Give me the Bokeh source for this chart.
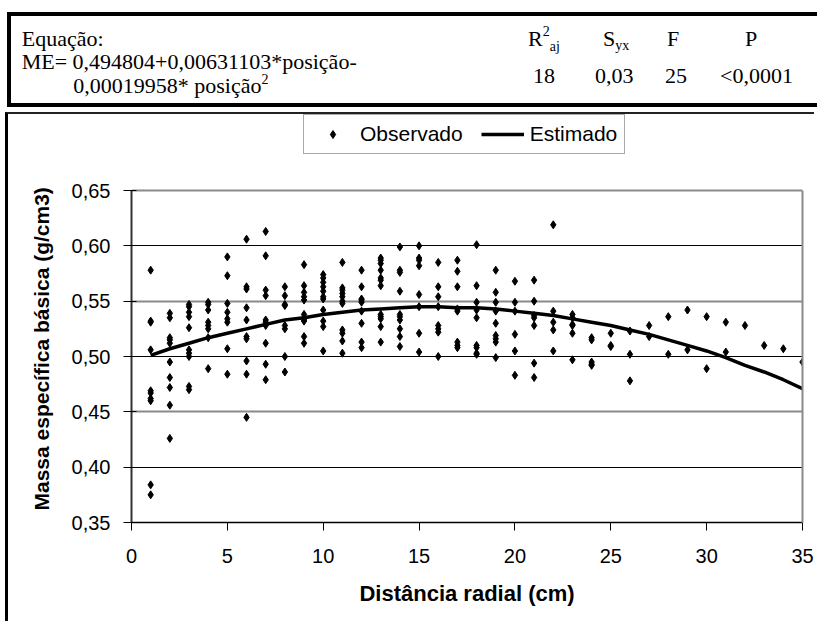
from bokeh.plotting import figure
from bokeh.models import (Div, FixedTicker, CustomJSTickFormatter, Grid, Legend,
                          LegendItem, ColumnDataSource, Range1d, Title, LinearAxis)
from bokeh.layouts import column
from bokeh.embed import file_html
from bokeh.resources import INLINE

# ---------------- data ----------------
positions = list(range(1, 36))
observed = [
    [0.578, 0.532, 0.531, 0.506, 0.469, 0.467, 0.462, 0.460, 0.384, 0.375],
    [0.539, 0.535, 0.517, 0.515, 0.512, 0.495, 0.481, 0.472, 0.456, 0.426],
    [0.547, 0.545, 0.540, 0.536, 0.526, 0.506, 0.503, 0.500, 0.473, 0.470],
    [0.549, 0.547, 0.542, 0.531, 0.528, 0.525, 0.517, 0.489],
    [0.590, 0.573, 0.548, 0.540, 0.534, 0.531, 0.507, 0.484],
    [0.606, 0.563, 0.561, 0.544, 0.533, 0.518, 0.516, 0.496, 0.484, 0.445],
    [0.613, 0.591, 0.560, 0.555, 0.533, 0.531, 0.528, 0.512, 0.493, 0.479],
    [0.563, 0.555, 0.547, 0.546, 0.528, 0.525, 0.500, 0.486],
    [0.583, 0.564, 0.558, 0.554, 0.551, 0.538, 0.533, 0.532, 0.518, 0.512],
    [0.574, 0.571, 0.567, 0.563, 0.559, 0.554, 0.552, 0.542, 0.532, 0.527, 0.505],
    [0.585, 0.562, 0.560, 0.557, 0.554, 0.550, 0.548, 0.524, 0.521, 0.514, 0.503],
    [0.578, 0.563, 0.552, 0.551, 0.549, 0.541, 0.530, 0.513, 0.508],
    [0.589, 0.587, 0.584, 0.578, 0.571, 0.569, 0.564, 0.538, 0.536, 0.534, 0.527, 0.513],
    [0.599, 0.578, 0.576, 0.559, 0.538, 0.536, 0.533, 0.525, 0.518, 0.509],
    [0.600, 0.589, 0.587, 0.582, 0.556, 0.545, 0.521, 0.504],
    [0.585, 0.563, 0.554, 0.545, 0.528, 0.525, 0.522, 0.500],
    [0.587, 0.577, 0.563, 0.543, 0.541, 0.513, 0.510, 0.508],
    [0.601, 0.564, 0.549, 0.542, 0.535, 0.510, 0.508, 0.503, 0.502],
    [0.578, 0.558, 0.549, 0.541, 0.530, 0.519, 0.516, 0.513, 0.499],
    [0.568, 0.549, 0.541, 0.520, 0.505, 0.483],
    [0.569, 0.550, 0.537, 0.535, 0.528, 0.494, 0.481],
    [0.619, 0.541, 0.531, 0.524, 0.505],
    [0.538, 0.535, 0.529, 0.528, 0.521, 0.497],
    [0.517, 0.515, 0.495, 0.493, 0.492],
    [0.521, 0.510, 0.509],
    [0.523, 0.502, 0.478],
    [0.528, 0.518],
    [0.536, 0.502],
    [0.542, 0.506],
    [0.536, 0.489],
    [0.531, 0.504],
    [0.528],
    [0.510],
    [0.507],
    [0.495],
]
estimated = [0.501, 0.507, 0.512, 0.517, 0.521, 0.525, 0.529, 0.533, 0.535, 0.538,
             0.540, 0.542, 0.543, 0.544, 0.545, 0.545, 0.544, 0.544, 0.543, 0.541,
             0.539, 0.537, 0.534, 0.531, 0.528, 0.524, 0.520, 0.515, 0.510, 0.505,
             0.499, 0.492, 0.486, 0.479, 0.471]

x_ticks = [0, 5, 10, 15, 20, 25, 30, 35]
y_ticks = [0.35, 0.40, 0.45, 0.50, 0.55, 0.60, 0.65]
y_grid_dark = [0.40, 0.50, 0.60]
y_grid_light = [0.45, 0.55, 0.65]

series_names = ["Observado", "Estimado"]
x_title = "Distância radial (cm)"
y_title = "Massa específica básica (g/cm3)"

eq_label = "Equação:"
eq_line1 = "ME= 0,494804+0,00631103*posição-"
eq_line2 = "0,00019958* posição"
stat_values = ["18", "0,03", "25", "<0,0001"]

# ---------------- table (header box) ----------------
S = "position:absolute;"
table_html = f"""
<div style="position:relative;width:810px;height:95px;box-sizing:border-box;
border:4px solid #000;border-right:none;font-family:'Liberation Serif',serif;
font-size:22px;line-height:22px;color:#000;white-space:nowrap;background:#fff;">
<span style="{S}left:10.7px;top:12.3px">{eq_label}</span>
<span style="{S}left:10.7px;top:34.9px">{eq_line1}</span>
<span style="{S}left:62.3px;top:59px">{eq_line2}<sup style="font-size:14px;line-height:0;vertical-align:9px">2</sup></span>
<span style="{S}left:517px;top:12.3px">R<sup style="font-size:14px;line-height:0;vertical-align:10px">2</sup><sub style="font-size:14px;line-height:0;vertical-align:-5px">aj</sub></span>
<span style="{S}left:592px;top:12.3px">S<sub style="font-size:14px;line-height:0;vertical-align:-4px">yx</sub></span>
<span style="{S}left:656px;top:12.3px">F</span>
<span style="{S}left:734px;top:12.3px">P</span>
<span style="{S}left:522px;top:48.9px">{stat_values[0]}</span>
<span style="{S}left:584px;top:48.9px">{stat_values[1]}</span>
<span style="{S}left:654px;top:48.9px">{stat_values[2]}</span>
<span style="{S}left:709px;top:48.9px">{stat_values[3].replace('<', '&lt;')}</span>
</div>
"""
table = Div(text=table_html, width=810, height=95, margin=(12, 0, 0, 7))

# ---------------- chart ----------------
obs_x = [pos for pos, vals in zip(positions, observed) for _ in vals]
obs_y = [v for vals in observed for v in vals]
src_obs = ColumnDataSource(dict(x=obs_x, y=obs_y))
src_est = ColumnDataSource(dict(x=positions, y=estimated))

# frame: x 131..802, value 0.65 at y=190, 0.35 at y=522; the frame extends up to the
# top of the chart box so that the legend (which sits above 0.65) is inside it
y_lo, y_hi = 0.35, 0.65
px_per_unit = 332 / (y_hi - y_lo)
y_top = y_hi + 76 / px_per_unit

p = figure(width=809, height=509, output_backend="svg", toolbar_location=None,
           x_range=Range1d(0, 35), y_range=Range1d(y_lo, y_top),
           min_border_left=123, min_border_right=15, min_border_top=0,
           min_border_bottom=101, margin=(5, 0, 0, 5))
p.styles = {"border-left": "3px solid #000", "border-top": "2px solid #222"}
p.background_fill_color = "white"
p.border_fill_color = "white"
p.outline_line_color = None

p.xgrid.visible = False
p.ygrid.visible = False
p.add_layout(Grid(dimension=1, ticker=FixedTicker(ticks=y_grid_light),
                  grid_line_color="#8a8a8a", grid_line_width=2))
p.add_layout(Grid(dimension=1, ticker=FixedTicker(ticks=y_grid_dark),
                  grid_line_color="#000000", grid_line_width=1))

r_obs = p.scatter("x", "y", source=src_obs, marker="diamond", size=8,
                  color="black")
r_est = p.line("x", "y", source=src_est, line_width=3.5, color="black")

# axes
for ax in (p.xaxis[0], p.yaxis[0]):
    ax.major_label_text_font = "Liberation Sans"
    ax.major_label_text_font_size = "20px"
    ax.major_label_text_color = "black"
    ax.axis_label_text_font = "Liberation Sans"
    ax.axis_label_text_font_style = "bold"
    ax.axis_label_text_color = "black"
    ax.minor_tick_line_color = None
    ax.major_tick_line_color = "black"
    ax.major_tick_out = 8

p.xaxis.ticker = FixedTicker(ticks=x_ticks)
p.xaxis.axis_label = x_title
p.xaxis.axis_label_text_font_size = "22px"
p.xaxis.axis_label_standoff = 15
p.xaxis.major_label_standoff = 18
p.xaxis.major_tick_in = 0
p.xaxis.axis_line_color = "black"
p.xaxis.axis_line_width = 1.5

p.yaxis.ticker = FixedTicker(ticks=y_ticks)
p.yaxis.bounds = (y_lo, y_hi)
p.yaxis.formatter = CustomJSTickFormatter(code="return tick.toFixed(2).replace('.', ',');")
p.yaxis.major_label_standoff = 13
p.yaxis.major_tick_in = 5
p.yaxis.axis_line_color = "#333333"
p.yaxis.axis_line_width = 2

# y title as a left-side title, aligned from the bottom of the frame
ytitle = Title(text=y_title, align="left", offset=12, standoff=32,
               text_font="Liberation Sans", text_font_size="21px",
               text_font_style="bold", text_color="black")
p.add_layout(ytitle, "left")

# right border of the plot area (only between 0.35 and 0.65)
right_border = LinearAxis(ticker=FixedTicker(ticks=[]), bounds=(y_lo, y_hi),
                          axis_line_color="#8a8a8a", axis_line_width=2,
                          major_tick_line_color=None, minor_tick_line_color=None,
                          major_label_text_font_size="0px")
p.add_layout(right_border, "right")

legend = Legend(items=[LegendItem(label=series_names[0], renderers=[r_obs]),
                       LegendItem(label=series_names[1], renderers=[r_est])],
                location=(172, 368), orientation="horizontal",
                label_text_font="Liberation Sans", label_text_font_size="21px",
                label_text_color="black",
                border_line_color="#555555", border_line_width=1,
                background_fill_color="white", background_fill_alpha=1,
                glyph_width=43, glyph_height=20, label_standoff=6,
                spacing=18, padding=7, margin=0)
p.add_layout(legend)

layout = column(table, p, spacing=0)

open("out.html", "w").write(file_html(layout, INLINE))
